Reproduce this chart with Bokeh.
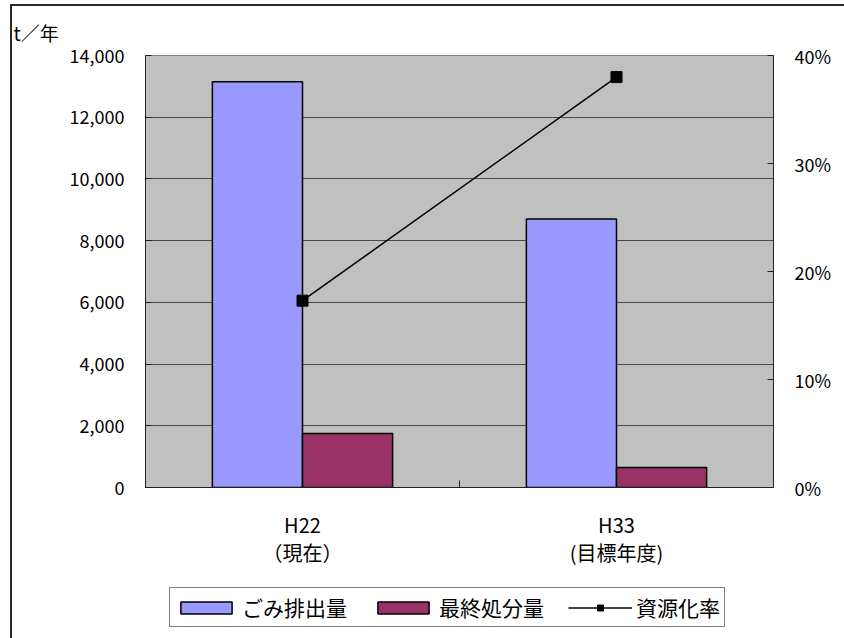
import math
from bokeh.plotting import figure
from bokeh.layouts import column
from bokeh.models import (ColumnDataSource, FactorRange, Range1d, LinearAxis,
                          FixedTicker, NumeralTickFormatter, PrintfTickFormatter, Legend,
                          LegendItem)
from bokeh.transform import dodge
from bokeh.embed import file_html
from bokeh.resources import INLINE

# --- data -------------------------------------------------------------
categories = ["H22\n（現在）", "H33\n(目標年度)"]
waste_total = [13150, 8700]        # ごみ排出量 (t/年)
final_disposal = [1750, 650]       # 最終処分量 (t/年)
recycling_rate = [17.3, 38.0]      # 資源化率 (%)

series_labels = ["ごみ排出量", "最終処分量", "資源化率"]
left_ticks = [0, 2000, 4000, 6000, 8000, 10000, 12000, 14000]
right_ticks = [0, 10, 20, 30, 40]

FONT = "Noto Sans CJK JP"
BLUE = "#9999FF"
WINE = "#993366"
BORDER_L, BORDER_R = 133, 71

source = ColumnDataSource(dict(cat=categories, waste=waste_total,
                               final=final_disposal, rate=recycling_rate,
                               base=[left_ticks[0]] * len(categories)))

chart = figure(width=832, height=574, x_range=FactorRange(*categories, range_padding=0),
               y_range=Range1d(left_ticks[0], left_ticks[-1]),
               x_axis_location="below", y_axis_location="left",
               output_backend="svg", toolbar_location=None,
               min_border_left=BORDER_L, min_border_right=BORDER_R,
               min_border_top=49, min_border_bottom=93)

chart.extra_y_ranges = {"rate": Range1d(right_ticks[0], right_ticks[-1])}

chart.background_fill_color = "#C0C0C0"
chart.border_fill_color = "white"
chart.outline_line_color = "#808080"
chart.outline_line_width = 1

# unit caption at the top left
chart.title.text = "t／年"
chart.title.align = "left"
chart.title.offset = -132
chart.title.text_font = FONT
chart.title.text_font_size = "19px"
chart.title.text_font_style = "normal"
chart.title.text_color = "black"
chart.title.standoff = 20

chart.xgrid.grid_line_color = None
chart.ygrid.grid_line_color = "#4a4a4a"
chart.ygrid.grid_line_width = 1
chart.ygrid.ticker = FixedTicker(ticks=left_ticks)

# left axis (t/年)
ya = chart.yaxis[0]
ya.ticker = FixedTicker(ticks=left_ticks)
ya.formatter = NumeralTickFormatter(format="0,0")
ya.major_tick_in = 6
ya.major_tick_out = 0
ya.minor_tick_line_color = None
ya.axis_line_color = "#202020"
ya.major_tick_line_color = "#202020"
ya.major_label_standoff = 21
ya.major_label_text_font = FONT
ya.major_label_text_font_size = "18px"
ya.major_label_text_color = "black"

# right axis (%)
ra = LinearAxis(y_range_name="rate", ticker=FixedTicker(ticks=right_ticks),
                formatter=PrintfTickFormatter(format="%d%%"))
ra.major_tick_in = 6
ra.major_tick_out = 0
ra.minor_tick_line_color = None
ra.axis_line_color = "#202020"
ra.major_tick_line_color = "#202020"
ra.major_label_standoff = 21
ra.major_label_text_font = FONT
ra.major_label_text_font_size = "18px"
ra.major_label_text_color = "black"
chart.add_layout(ra, "right")

# bottom: category labels
ca = chart.xaxis[0]
ca.axis_line_color = "#202020"
ca.major_tick_line_color = None
ca.major_label_standoff = 16
ca.major_label_text_font = FONT
ca.major_label_text_font_size = "20px"
ca.major_label_text_line_height = 0.98
ca.major_label_text_color = "black"

# bars
chart.vbar(x=dodge("cat", -0.1435, range=chart.x_range), top="waste", width=0.287, source=source,
           fill_color=BLUE, line_color="black", line_width=1.5)
chart.vbar(x=dodge("cat", 0.1435, range=chart.x_range), top="final", width=0.287, source=source,
           fill_color=WINE, line_color="black", line_width=1.5)

# short tick marks on the category boundaries
chart.scatter(x=dodge("cat", 0.5, range=chart.x_range), y="base", source=source, marker="dash",
              angle=math.pi / 2, size=14, line_color="#202020", line_width=1)

# recycling rate line on the right axis
chart.line(x="cat", y="rate", source=source, y_range_name="rate", line_color="black", line_width=1.5)
chart.scatter(x="cat", y="rate", source=source, y_range_name="rate", marker="square",
              size=11, fill_color="black", line_color="black")

# --- legend strip under the chart --------------------------------------
key = figure(width=832, height=58, x_axis_location=None, y_axis_location=None,
             output_backend="svg", toolbar_location=None,
             min_border_left=BORDER_L, min_border_right=BORDER_R,
             min_border_top=0, min_border_bottom=0)
key.outline_line_color = None
key.grid.grid_line_color = None
key.background_fill_color = "white"
key.border_fill_color = "white"

# hidden proxy renderers that only supply the legend swatches
proxy = ColumnDataSource(dict(x=[0], y=[0]))
k1 = key.vbar(x="x", top="y", width=1, source=proxy, visible=False,
              fill_color=BLUE, line_color="black", line_width=1.5)
k2 = key.vbar(x="x", top="y", width=1, source=proxy, visible=False,
              fill_color=WINE, line_color="black", line_width=1.5)
k3 = key.line(x="x", y="y", source=proxy, visible=False, line_color="black", line_width=1.5)
k4 = key.scatter(x="x", y="y", source=proxy, visible=False, marker="square",
                 fill_color="black", line_color="black")

legend = Legend(items=[LegendItem(label=series_labels[0], renderers=[k1]),
                       LegendItem(label=series_labels[1], renderers=[k2]),
                       LegendItem(label=series_labels[2], renderers=[k3, k4])],
                orientation="horizontal", location=(24, 11))
legend.glyph_width = 64
legend.glyph_height = 15
legend.label_standoff = 4
legend.spacing = 24
legend.padding = 4
legend.margin = 0
legend.border_line_color = "black"
legend.border_line_width = 1
legend.background_fill_color = "white"
legend.background_fill_alpha = 1
legend.inactive_fill_alpha = 0
legend.label_text_font = FONT
legend.label_text_font_size = "21px"
legend.label_text_color = "black"
key.add_layout(legend, "center")

page = column(chart, key, spacing=0)
# outer chart frame: only the left and top edges fall inside the page
page.styles = {"margin-left": "10px", "margin-top": "4px",
               "border-left": "2px solid #2a2a2a", "border-top": "2px solid #2a2a2a"}

open("out.html", "w").write(file_html(page, INLINE))
